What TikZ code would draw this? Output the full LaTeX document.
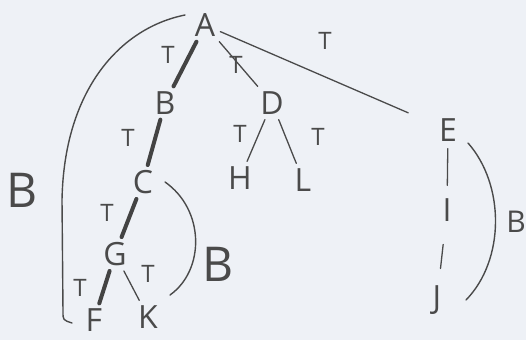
\documentclass[tikz,border=0pt]{standalone}
\usepackage{fontspec}
\setmainfont{Open Sans}
\definecolor{paper}{HTML}{EEF1F6}
\definecolor{pencil}{HTML}{4A4A4A}
\tikzset{
  vert/.style={text=pencil, font=\fontsize{32}{32}\selectfont, inner sep=5pt},
  lab/.style={text=pencil, font=\fontsize{24}{24}\selectfont, inner sep=0pt},
  blab/.style={text=pencil, font=\fontsize{48}{48}\selectfont, inner sep=0pt},
  thin/.style={draw=pencil, line width=1.3pt, line cap=round},
  thick/.style={draw=pencil!90!black, line width=4pt, line cap=round},
  arc/.style={draw=pencil, line width=1.4pt, line cap=round},
}
\begin{document}
\begin{tikzpicture}[x=1pt,y=-1pt]
\fill[paper] (0,0) rectangle (526,340);
\useasboundingbox (0,0) rectangle (526,340);
% vertices
\node[vert] (A) at (205,25) {A};
\node[vert] (B) at (165,103) {B};
\node[vert] (D) at (272,103) {D};
\node[vert] (C) at (143,182) {C};
\node[vert] (H) at (240,178) {H};
\node[vert] (L) at (303,180) {L};
\node[vert] (E) at (448,130) {E};
\node[vert] (I) at (447,210) {I};
\node[vert] (J) at (437,300) {J};
\node[vert] (G) at (115,254) {G};
\node[vert] (F) at (94,320) {F};
\node[vert] (K) at (148,317) {K};
% tree edges
\draw[thick] (A) -- (B);
\draw[thin]  (A) -- (D);
\draw[thin, shorten >=28pt] (A) -- (E);
\draw[thick] (B) -- (C);
\draw[thin]  (D) -- (H);
\draw[thin]  (D) -- (L);
\draw[thick] (C) -- (G);
\draw[thick] (G) -- (F);
\draw[thin]  (G) -- (K);
\draw[thin, shorten <=2pt, shorten >=8pt]  (E) -- (I);
\draw[thin, shorten <=18pt, shorten >=12pt]  (I) -- (J);
% edge labels
\node[lab] (t1) at (168,55) {T};
\node[lab] (t2) at (236,65) {T};
\node[lab] (t3) at (325,41) {T};
\node[lab] (t4) at (128,138) {T};
\node[lab] (t5) at (240,134) {T};
\node[lab] (t6) at (318,137) {T};
\node[lab] (t7) at (107,213) {T};
\node[lab] (t8) at (80,288) {T};
\node[lab] (t9) at (148,274) {T};
% back arcs
\coordinate (a1) at ([shift={(-20,-10)}]A.center);
\coordinate (a2) at ([shift={(-22,3)}]F.center);
\draw[arc] (a1) .. controls (120,28) and (64,90) .. (62,200) -- (63,312) .. controls (63,320) .. (a2);
\coordinate (c1) at ([shift={(22,0)}]C.center);
\coordinate (k1) at ([shift={(22,-22)}]K.center);
\draw[arc] (c1) .. controls (205,210) and (205,270) .. (k1);
\coordinate (e1) at ([shift={(20,13)}]E.center);
\coordinate (j1) at ([shift={(29,0)}]J.center);
\draw[arc] (e1) .. controls (505,185) and (505,260) .. (j1);
\node[blab] (b1) at (22,190) {B};
\node[blab] (b2) at (218,264) {B};
\node[lab, font=\fontsize{30}{30}\selectfont] (b3) at (516,222) {B};
\end{tikzpicture}
\end{document}
